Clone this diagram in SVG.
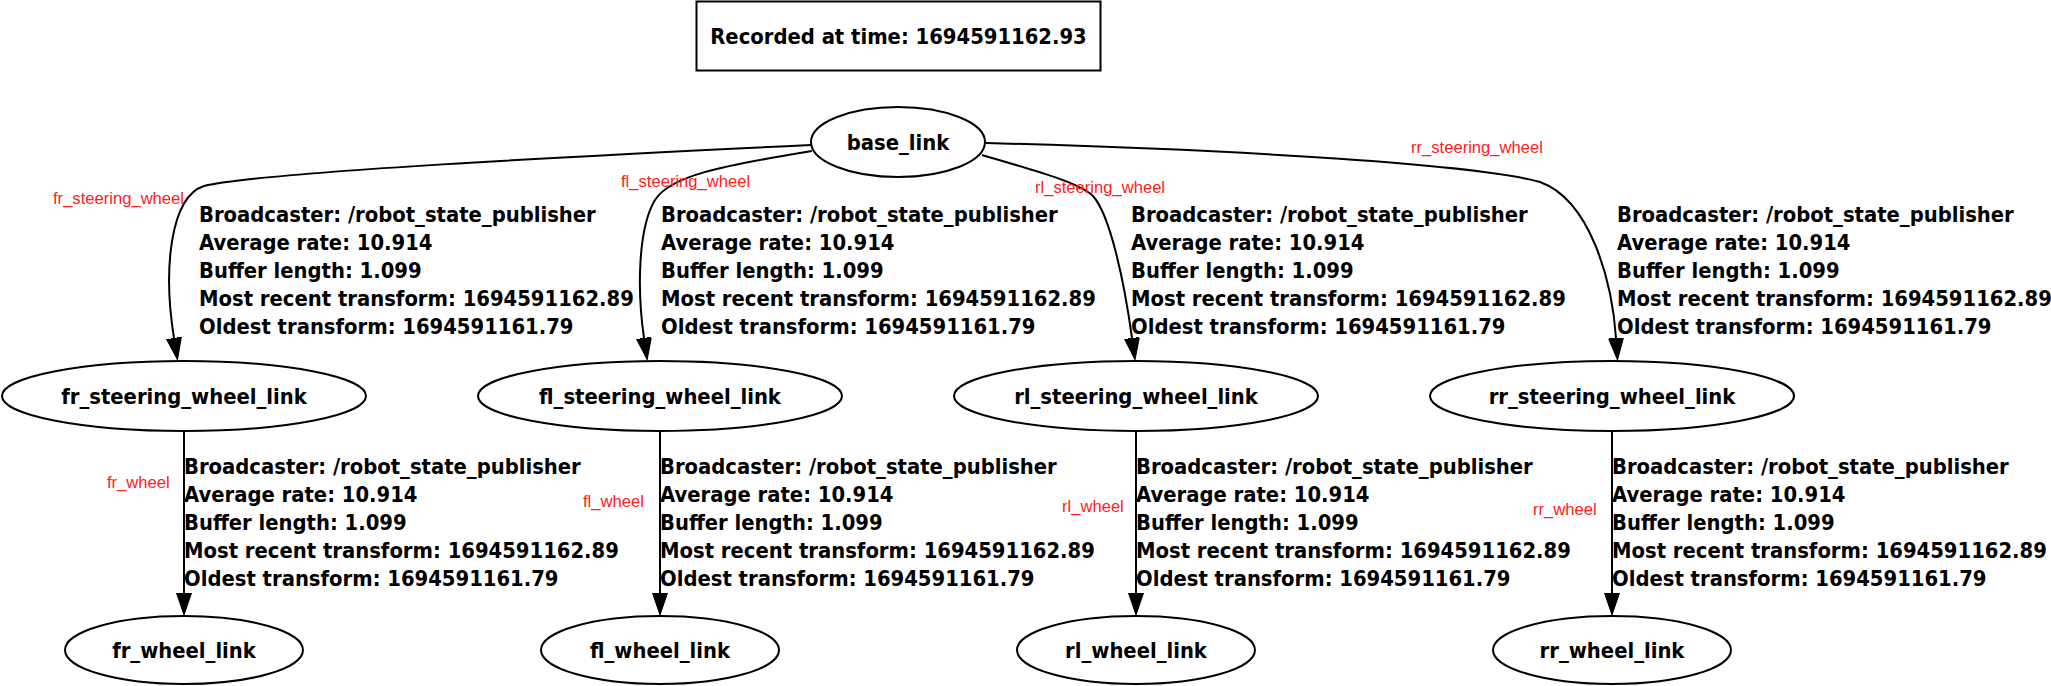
<svg xmlns="http://www.w3.org/2000/svg" width="2051" height="686" viewBox="0 0 2051 686">
<style>
.b{font-family:"DejaVu Sans Condensed","DejaVu Sans",sans-serif;font-weight:bold;font-stretch:condensed;font-size:21.8px;fill:#000}
.c{text-anchor:middle}
.r{font-family:"Liberation Sans",Arial,sans-serif;font-size:16.6px;fill:#ff2020}
.n{fill:#fff;stroke:#000;stroke-width:2}
.e{fill:none;stroke:#000;stroke-width:2}
</style>
<defs>
<marker id="ah" markerUnits="userSpaceOnUse" markerWidth="24" markerHeight="16" refX="0" refY="7.5" orient="auto" viewBox="0 0 24 16">
<path d="M0,0 L22,7.5 L0,15 z" fill="#000" stroke="#000" stroke-width="1"/>
</marker>
</defs>
<rect width="2051" height="686" fill="#fff"/>
<g id="title">
<rect x="696.5" y="1.5" width="404" height="69" fill="#fff" stroke="#000" stroke-width="2"/>
<text class="b c" x="898.5" y="44">Recorded at time: 1694591162.93</text>
</g>
<g id="connectors">
<path class="e" marker-end="url(#ah)" d="M811,145 C 580,156 262,172 204,186 C 170,197 163,270 174,338"/>
<path class="e" marker-end="url(#ah)" d="M812,151 C 720,166 670,176 655,200 C 638,228 637,290 644,338"/>
<path class="e" marker-end="url(#ah)" d="M982,155 C 1040,172 1080,183 1093,196 C 1110,215 1124,280 1132,338"/>
<path class="e" marker-end="url(#ah)" d="M986,143 C 1250,150 1480,165 1540,182 C 1590,200 1612,280 1616,338"/>
<path class="e" marker-end="url(#ah)" d="M184,431 L184,593"/>
<path class="e" marker-end="url(#ah)" d="M660,431 L660,593"/>
<path class="e" marker-end="url(#ah)" d="M1136,431 L1136,593"/>
<path class="e" marker-end="url(#ah)" d="M1612,431 L1612,593"/>
<text class="r" x="53" y="204">fr_steering_wheel</text>
<text class="r" x="621" y="187">fl_steering_wheel</text>
<text class="r" x="1035" y="193">rl_steering_wheel</text>
<text class="r" x="1411" y="153">rr_steering_wheel</text>
<text class="r" x="107" y="488">fr_wheel</text>
<text class="r" x="583" y="507">fl_wheel</text>
<text class="r" x="1062" y="512">rl_wheel</text>
<text class="r" x="1533" y="515">rr_wheel</text>
<text class="b" x="199" y="221.5"><tspan x="199">Broadcaster: /robot_state_publisher</tspan><tspan x="199" dy="28">Average rate: 10.914</tspan><tspan x="199" dy="28">Buffer length: 1.099</tspan><tspan x="199" dy="28">Most recent transform: 1694591162.89</tspan><tspan x="199" dy="28">Oldest transform: 1694591161.79</tspan></text>
<text class="b" x="661" y="221.5"><tspan x="661">Broadcaster: /robot_state_publisher</tspan><tspan x="661" dy="28">Average rate: 10.914</tspan><tspan x="661" dy="28">Buffer length: 1.099</tspan><tspan x="661" dy="28">Most recent transform: 1694591162.89</tspan><tspan x="661" dy="28">Oldest transform: 1694591161.79</tspan></text>
<text class="b" x="1131" y="221.5"><tspan x="1131">Broadcaster: /robot_state_publisher</tspan><tspan x="1131" dy="28">Average rate: 10.914</tspan><tspan x="1131" dy="28">Buffer length: 1.099</tspan><tspan x="1131" dy="28">Most recent transform: 1694591162.89</tspan><tspan x="1131" dy="28">Oldest transform: 1694591161.79</tspan></text>
<text class="b" x="1617" y="221.5"><tspan x="1617">Broadcaster: /robot_state_publisher</tspan><tspan x="1617" dy="28">Average rate: 10.914</tspan><tspan x="1617" dy="28">Buffer length: 1.099</tspan><tspan x="1617" dy="28">Most recent transform: 1694591162.89</tspan><tspan x="1617" dy="28">Oldest transform: 1694591161.79</tspan></text>
<text class="b" x="184" y="474"><tspan x="184">Broadcaster: /robot_state_publisher</tspan><tspan x="184" dy="28">Average rate: 10.914</tspan><tspan x="184" dy="28">Buffer length: 1.099</tspan><tspan x="184" dy="28">Most recent transform: 1694591162.89</tspan><tspan x="184" dy="28">Oldest transform: 1694591161.79</tspan></text>
<text class="b" x="660" y="474"><tspan x="660">Broadcaster: /robot_state_publisher</tspan><tspan x="660" dy="28">Average rate: 10.914</tspan><tspan x="660" dy="28">Buffer length: 1.099</tspan><tspan x="660" dy="28">Most recent transform: 1694591162.89</tspan><tspan x="660" dy="28">Oldest transform: 1694591161.79</tspan></text>
<text class="b" x="1136" y="474"><tspan x="1136">Broadcaster: /robot_state_publisher</tspan><tspan x="1136" dy="28">Average rate: 10.914</tspan><tspan x="1136" dy="28">Buffer length: 1.099</tspan><tspan x="1136" dy="28">Most recent transform: 1694591162.89</tspan><tspan x="1136" dy="28">Oldest transform: 1694591161.79</tspan></text>
<text class="b" x="1612" y="474"><tspan x="1612">Broadcaster: /robot_state_publisher</tspan><tspan x="1612" dy="28">Average rate: 10.914</tspan><tspan x="1612" dy="28">Buffer length: 1.099</tspan><tspan x="1612" dy="28">Most recent transform: 1694591162.89</tspan><tspan x="1612" dy="28">Oldest transform: 1694591161.79</tspan></text>
</g>
<g id="base_link"><ellipse class="n" cx="898" cy="142" rx="87" ry="35"/><text class="b c" x="898" y="150">base_link</text></g>
<g id="fr_steering_wheel_link"><ellipse class="n" cx="184" cy="396" rx="182" ry="35"/><text class="b c" x="184" y="404">fr_steering_wheel_link</text></g>
<g id="fl_steering_wheel_link"><ellipse class="n" cx="660" cy="396" rx="182" ry="35"/><text class="b c" x="660" y="404">fl_steering_wheel_link</text></g>
<g id="rl_steering_wheel_link"><ellipse class="n" cx="1136" cy="396" rx="182" ry="35"/><text class="b c" x="1136" y="404">rl_steering_wheel_link</text></g>
<g id="rr_steering_wheel_link"><ellipse class="n" cx="1612" cy="396" rx="182" ry="35"/><text class="b c" x="1612" y="404">rr_steering_wheel_link</text></g>
<g id="fr_wheel_link"><ellipse class="n" cx="184" cy="650" rx="119" ry="34"/><text class="b c" x="184" y="658">fr_wheel_link</text></g>
<g id="fl_wheel_link"><ellipse class="n" cx="660" cy="650" rx="119" ry="34"/><text class="b c" x="660" y="658">fl_wheel_link</text></g>
<g id="rl_wheel_link"><ellipse class="n" cx="1136" cy="650" rx="119" ry="34"/><text class="b c" x="1136" y="658">rl_wheel_link</text></g>
<g id="rr_wheel_link"><ellipse class="n" cx="1612" cy="650" rx="119" ry="34"/><text class="b c" x="1612" y="658">rr_wheel_link</text></g>
</svg>
